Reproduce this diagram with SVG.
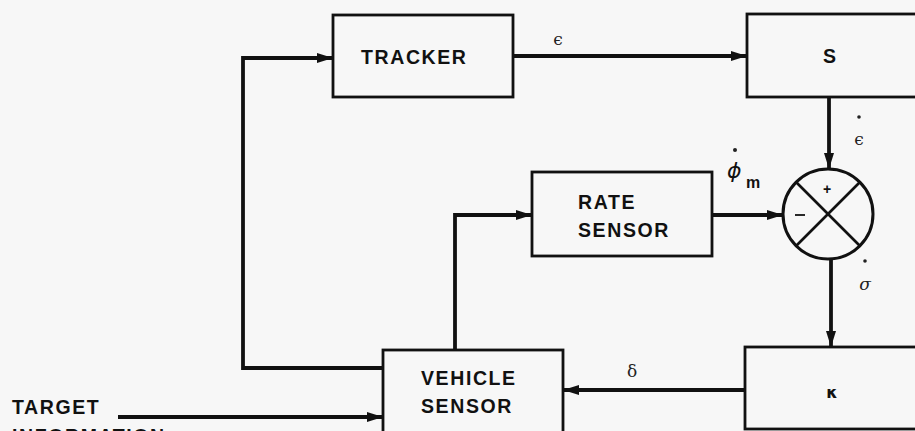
<svg xmlns="http://www.w3.org/2000/svg" width="915" height="431" viewBox="0 0 915 431">
<style>
.box{fill:none;stroke:#111;stroke-width:2.8}
.ln{fill:none;stroke:#111;stroke-width:3.8}
.lbl{font-family:"Liberation Sans",Arial,sans-serif;font-weight:bold;font-size:19.5px;fill:#111;letter-spacing:1.6px}
.sym{font-family:"DejaVu Serif","Liberation Serif",serif;font-size:17px;fill:#222}
</style>
<defs>
<marker id="ah" viewBox="0 0 16 10" refX="16" refY="5" markerWidth="16" markerHeight="10" markerUnits="userSpaceOnUse" orient="auto">
<path d="M0,0 L16,5 L0,10 Z" fill="#111"/>
</marker>
</defs>
<rect width="915" height="431" fill="#f7f7f7"/>
<g id="tracker">
<rect class="box" x="333" y="15" width="180" height="82"/>
<text class="lbl" x="361" y="64">TRACKER</text>
</g>
<g id="s">
<rect class="box" x="747" y="14" width="175" height="83"/>
<text class="lbl" x="823" y="63">S</text>
</g>
<g id="rate">
<rect class="box" x="532" y="172" width="180" height="84"/>
<text class="lbl" x="578" y="209">RATE</text>
<text class="lbl" x="578" y="237">SENSOR</text>
</g>
<g id="sum">
<circle cx="828" cy="214" r="45" fill="none" stroke="#111" stroke-width="3"/>
<line x1="796" y1="182" x2="860" y2="246" stroke="#111" stroke-width="2.6"/>
<line x1="860" y1="182" x2="796" y2="246" stroke="#111" stroke-width="2.6"/>
<text x="827" y="194" font-family="Liberation Sans,Arial,sans-serif" font-size="14" font-weight="bold" text-anchor="middle" fill="#111">+</text>
<line x1="795" y1="215" x2="805" y2="215" stroke="#111" stroke-width="1.8"/>
</g>
<g id="k">
<rect class="box" x="745" y="347" width="177" height="82"/>
<text x="832" y="398" text-anchor="middle" font-family="DejaVu Sans,sans-serif" font-weight="bold" font-size="16" fill="#111">κ</text>
</g>
<g id="vehicle">
<rect class="box" x="383" y="350" width="180" height="84"/>
<text class="lbl" x="421" y="385">VEHICLE</text>
<text class="lbl" x="421" y="413">SENSOR</text>
</g>
<g id="target">
<text class="lbl" x="12" y="414">TARGET</text>
<text class="lbl" x="12" y="443">INFORMATION</text>
</g>
<g id="connectors">
<path class="ln" d="M383,368 H243 V58 H333" marker-end="url(#ah)"/>
<path class="ln" d="M513,56 H747" marker-end="url(#ah)"/>
<path class="ln" d="M829,97 V169" marker-end="url(#ah)"/>
<path class="ln" d="M455,350 V215 H532" marker-end="url(#ah)"/>
<path class="ln" d="M712,215 H783" marker-end="url(#ah)"/>
<path class="ln" d="M831,259 V347" marker-end="url(#ah)"/>
<path class="ln" d="M745,390 H563" marker-end="url(#ah)"/>
<path class="ln" d="M118,417 H383" marker-end="url(#ah)"/>
</g>
<g id="labels">
<text class="sym" x="558" y="45" text-anchor="middle">ϵ</text>
<circle cx="859" cy="117" r="1.8" fill="#222"/>
<text class="sym" x="859" y="145" text-anchor="middle">ϵ</text>
<circle cx="735" cy="150" r="2" fill="#222"/>
<text x="727" y="178" font-family="DejaVu Sans,sans-serif" font-style="italic" font-size="22" fill="#111">ϕ</text>
<text x="746" y="188" font-family="Liberation Sans,Arial,sans-serif" font-weight="bold" font-size="16" fill="#111">m</text>
<circle cx="865" cy="261" r="1.8" fill="#222"/>
<text class="sym" x="865" y="290" text-anchor="middle" font-style="italic">σ</text>
<text class="sym" x="632" y="377" text-anchor="middle">δ</text>
</g>
</svg>
